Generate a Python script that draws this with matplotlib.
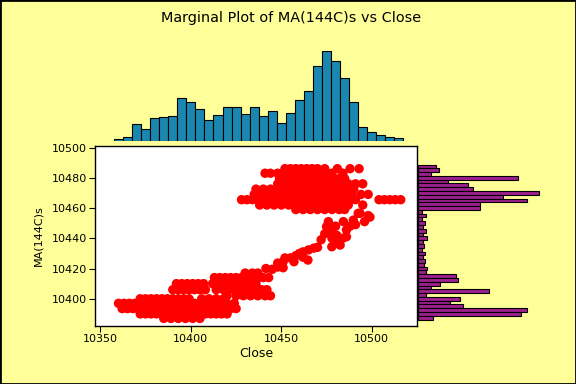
import matplotlib
matplotlib.use('Agg')
import matplotlib.pyplot as plt
import numpy as np

# top histogram (Close), bin width 5
close_bins = np.arange(10360, 10520, 5)
close_counts = [5, 11, 50, 35, 68, 71, 74, 128, 116, 95, 62, 77, 101, 101, 80, 101,
                74, 89, 53, 83, 122, 149, 225, 269, 239, 188, 116, 41, 26, 17, 13, 8]

# right histogram (MA), bin width 2.5, listed from top to bottom
ma_bins = np.arange(10487.5, 10386, -2.5)
ma_counts = [54, 63, 40, 300, 90, 150, 165, 363, 255, 327, 186, 186, 12, 24, 12, 21,
             17, 24, 15, 27, 17, 18, 12, 21, 15, 21, 18, 27, 24, 114, 120, 66,
             39, 213, 24, 126, 96, 135, 327, 309, 45]

# scatter points, grouped by MA level: (ma, [close, ...])
upper_rows = [
    (10486, [10452, 10455, 10458, 10461, 10464, 10467, 10470, 10474, 10481, 10488, 10493]),
    (10483, [10441, 10444, 10448, 10451, 10454, 10457, 10460, 10463, 10466, 10469, 10472, 10475, 10478, 10484]),
    (10479.5, [10449, 10452, 10455, 10458, 10461, 10464, 10467, 10470, 10473, 10476, 10479, 10482, 10485]),
    (10476, [10448, 10451, 10454, 10457, 10460, 10463, 10466, 10469, 10472, 10475, 10478, 10481, 10484, 10487, 10491, 10495]),
    (10472.5, [10436, 10440, 10444, 10448, 10451, 10454, 10457, 10460, 10463, 10466, 10469, 10472, 10475, 10478, 10481, 10484, 10487, 10490]),
    (10469, [10435, 10439, 10443, 10447, 10450, 10453, 10456, 10459, 10462, 10465, 10468, 10471, 10474, 10477, 10480, 10483, 10486, 10489, 10494, 10498]),
    (10465.5, [10428, 10431, 10434, 10437, 10440, 10443, 10446, 10449, 10452, 10455, 10458, 10461, 10464, 10467, 10470,
               10473, 10476, 10479, 10482, 10485, 10488, 10491, 10504, 10507, 10510, 10513, 10516]),
    (10462, [10438, 10442, 10446, 10450, 10454, 10457, 10460, 10463, 10466, 10469, 10472, 10475, 10478, 10481, 10484, 10487, 10495]),
    (10459, [10458, 10462, 10466, 10470, 10474, 10478, 10482, 10485]),
]

middle_pts = [
    (10492.5, 10456.5), (10498, 10455), (10499, 10454),
    (10472, 10439), (10475, 10447.7), (10478, 10444), (10480.6, 10442), (10480.6, 10437),
    (10477.9, 10434.4), (10482.5, 10435.5), (10484, 10440), (10486, 10445.5), (10484.3, 10451),
    (10489.8, 10452), (10493.5, 10456.5), (10488, 10448), (10478, 10440), (10474, 10443),
    (10491, 10449), (10486, 10441), (10496, 10451), (10476, 10451), (10480, 10448),
    (10448, 10423.6), (10451, 10424.5), (10452, 10427), (10455, 10427), (10458, 10428.5),
    (10460, 10430), (10462, 10431), (10465, 10432.3), (10468, 10433.5), (10470, 10434),
    (10464.7, 10425.6), (10457, 10424.5), (10462, 10427.5), (10448, 10421), (10451, 10420.5),
    (10441.5, 10420), (10445, 10419.5),
]

lower_rows = [
    (10417, [10430, 10434, 10437]),
    (10414, [10413, 10416, 10419, 10422, 10425, 10428, 10431, 10434, 10437, 10440, 10443]),
    (10410, [10392, 10395, 10398, 10401, 10404, 10407, 10412, 10415, 10418, 10421, 10424, 10427, 10430, 10433, 10436]),
    (10406, [10390, 10393, 10396, 10399, 10402, 10405, 10408, 10414, 10418, 10421, 10424, 10427, 10430, 10433, 10436, 10439, 10442]),
    (10402, [10420, 10425, 10429, 10433, 10437, 10441, 10444]),
    (10400, [10372, 10375, 10378, 10381, 10384, 10387, 10390, 10393, 10396, 10399, 10406, 10410, 10414, 10418]),
    (10397, [10360, 10363, 10366, 10369, 10372, 10375, 10378, 10381, 10384, 10387, 10390, 10393, 10396, 10399,
             10402, 10405, 10408, 10411, 10414, 10417, 10420, 10424]),
    (10393.5, [10362, 10365, 10368, 10371, 10374, 10377, 10380, 10383, 10386, 10389, 10392, 10395, 10398, 10401,
               10404, 10407, 10410, 10413, 10416, 10419, 10422, 10425]),
    (10390, [10372, 10375, 10378, 10381, 10384, 10387, 10390, 10393, 10396, 10399, 10402, 10405, 10408, 10411,
             10414, 10417, 10420]),
    (10387, [10385, 10389, 10393, 10397, 10401, 10405]),
]

close = []
ma = []
for y, xs in upper_rows + lower_rows:
    close += xs
    ma += [y] * len(xs)
for x, y in middle_pts:
    close.append(x)
    ma.append(y)

bg = '#FFFF99'
W, H = 576, 384
fig = plt.figure(figsize=(5.76, 3.84), dpi=100, facecolor=bg)

xlim = (10347, 10525)
ylim = (10382, 10501)

# scatter axes
ax = fig.add_axes([95 / W, (H - 326) / H, (417 - 95) / W, (326 - 146) / H])
ax.set_facecolor('white')
ax.scatter(close, ma, s=46, c='#FF0000', edgecolors='none', zorder=3)
ax.set_xlim(xlim)
ax.set_ylim(ylim)
ax.set_xticks([10350, 10400, 10450, 10500])
ax.set_yticks([10400, 10420, 10440, 10460, 10480, 10500])
ax.tick_params(labelsize=8, length=4, width=0.8, pad=2)
ax.set_xlabel('Close', fontsize=9, labelpad=2)
ax.set_ylabel('MA(144C)s', fontsize=8, labelpad=6)
for sp in ax.spines.values():
    sp.set_linewidth(1)

# top marginal histogram
axt = fig.add_axes([95 / W, (H - 141) / H, (417 - 95) / W, 90 / H])
axt.bar(close_bins, close_counts, width=5, color='#1A87B0', edgecolor='black', linewidth=0.8)
axt.set_xlim(xlim)
axt.set_ylim(0, 269)
axt.axis('off')

# right marginal histogram
axr = fig.add_axes([417 / W, (H - 326) / H, 124 / W, (326 - 146) / H])
axr.barh(ma_bins, ma_counts, height=2.5, color='#9E1F8E', edgecolor='black', linewidth=0.8)
axr.set_ylim(ylim)
axr.set_xlim(-2, 370)
axr.axis('off')

fig.text(291 / W, 1 - 18 / H, 'Marginal Plot of MA(144C)s vs Close', ha='center', va='center', fontsize=10.4)

# frame around the figure
fig.patches.append(plt.Rectangle((0, 0), 1, 1, transform=fig.transFigure, fill=False,
                                 edgecolor='black', linewidth=2))

fig.savefig('out.png', dpi=100, facecolor=bg)
